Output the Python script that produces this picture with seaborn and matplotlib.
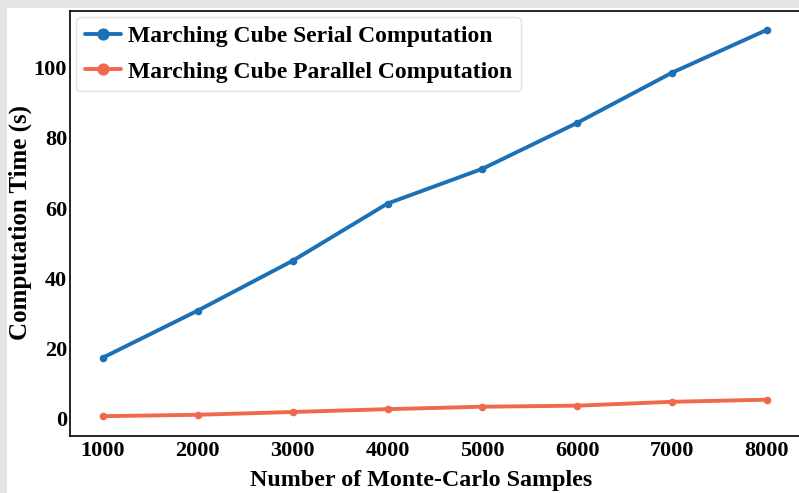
import pandas as pd
import matplotlib.pyplot as plt
import seaborn as sns
from matplotlib.patches import Rectangle

# values
samples = [1000, 2000, 3000, 4000, 5000, 6000, 7000, 8000]
serial_time = [17.4, 30.8, 45.0, 61.3, 71.2, 84.3, 98.6, 110.8]
parallel_time = [0.7, 1.1, 1.9, 2.7, 3.4, 3.7, 4.8, 5.4]
series_names = ["Marching Cube Serial Computation", "Marching Cube Parallel Computation"]

df = pd.DataFrame({
    "samples": samples * 2,
    "time": serial_time + parallel_time,
    "method": [series_names[0]] * len(samples) + [series_names[1]] * len(samples),
})

sns.set_style("white")
plt.rcParams["font.family"] = ["Liberation Serif", "DejaVu Serif"]
plt.rcParams["font.weight"] = "bold"
plt.rcParams["text.color"] = "black"
plt.rcParams["axes.labelcolor"] = "black"
plt.rcParams["xtick.color"] = "black"
plt.rcParams["ytick.color"] = "black"

fig = plt.figure(figsize=(7.99, 4.93), dpi=100, facecolor="#e4e4e4")
# white page area (the reference has a grey strip at left/top)
fig.patches.append(Rectangle((7 / 799, 0), 1, 485 / 493, transform=fig.transFigure,
                             facecolor="white", edgecolor="none", zorder=-10))

ax = fig.add_axes([69.8 / 799, 57.5 / 493, 730.4 / 799, 425 / 493])

palette = {series_names[0]: "#1c70b6", series_names[1]: "#f0694c"}
sns.lineplot(data=df, x="samples", y="time", hue="method", palette=palette,
             marker="o", markersize=5.5, markeredgewidth=0, linewidth=2.8, ax=ax)

ax.set_xticks(samples)
ax.set_yticks([0, 20, 40, 60, 80, 100])
ax.tick_params(axis="x", length=0, labelsize=16, pad=4)
ax.tick_params(axis="y", length=0, labelsize=16, pad=2)
for lbl in ax.get_xticklabels() + ax.get_yticklabels():
    lbl.set_fontweight("bold")

ax.set_xlabel("Number of Monte-Carlo Samples", fontsize=17.3, fontweight="bold")
# the reference label sits a little left of the axes centre (right spine is cropped)
ax.xaxis.set_label_coords(0.481, -0.081)
ax.set_ylabel("Computation Time (s)", fontsize=18, fontweight="bold", labelpad=1)

for side in ax.spines.values():
    side.set_color("black")
    side.set_linewidth(1.2)

leg = ax.legend(loc="upper left", markerscale=1.6, frameon=True,
                handlelength=1.5, handletextpad=0.3, borderpad=0.37, labelspacing=0.58,
                borderaxespad=0.28, prop={"weight": "bold", "size": 17})
leg.get_frame().set_edgecolor("#dddddd")

fig.savefig("out.png", dpi=100, facecolor=fig.get_facecolor())
